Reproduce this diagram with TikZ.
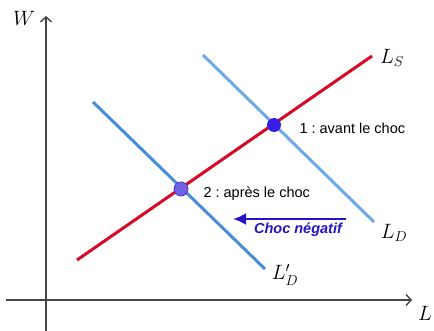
\documentclass[tikz,border=0pt]{standalone}
\usepackage{fontspec}
\setsansfont{Liberation Sans}
\usepackage{amsmath}
\usetikzlibrary{arrows.meta}
\definecolor{offrered}{RGB}{214,10,38}
\definecolor{demandeblue}{RGB}{110,170,228}
\definecolor{demandedark}{RGB}{72,140,218}
\definecolor{chocblue}{RGB}{35,20,200}
\definecolor{axisgray}{RGB}{70,70,70}
\frenchspacing

\begin{document}
\begin{tikzpicture}[x=1pt,y=-1pt,
    axis/.style={draw=axisgray,line width=1.4pt,-{Straight Barb[length=5pt,width=11pt]}},
    curve/.style={line width=3pt},
    eqpoint/.style={circle,inner sep=0pt,minimum size=14pt},
    mathlabel/.style={font=\fontsize{20.5}{23}\selectfont},
    txtlabel/.style={font=\sffamily\fontsize{14.5}{17}\selectfont,anchor=west}]
    \useasboundingbox (0,0) rectangle (434,331);
    % axes
    \coordinate (O1) at (46,331);
    \coordinate (Wtop) at (46,16);
    \coordinate (O2) at (6,300);
    \coordinate (Lend) at (412,300);
    \draw[axis] (O1)--(Wtop);
    \draw[axis] (O2)--(Lend);
    \node[mathlabel] (W) at (24,18) {$W$};
    \node[mathlabel] (L) at (425,313) {$L$};
    % offre
    \coordinate (S1) at (77,260);
    \coordinate (S2) at (372,56);
    \draw[curve,offrered] (S1)--(S2);
    \node[mathlabel] (LS) at (392,58) {$L_S$};
    % demande avant
    \coordinate (D1) at (203,55);
    \coordinate (D2) at (374,222);
    \draw[curve,demandeblue] (D1)--(D2);
    \node[mathlabel] (LD) at (394,233) {$L_D$};
    % demande apres
    \coordinate (Dp1) at (93,102);
    \coordinate (Dp2) at (265,269);
    \draw[curve,demandedark] (Dp1)--(Dp2);
    \node[mathlabel] (LDp) at (285,275) {$L'_D$};
    % equilibres
    \node[eqpoint,fill={rgb,255:red,55;green,30;blue,230}] (E1) at (274,125) {};
    \node[eqpoint,fill={rgb,255:red,112;green,98;blue,226},draw={rgb,255:red,70;green,55;blue,200},line width=0.8pt] (E2) at (181,189) {};
    \node[txtlabel] (T1) at (296,128) {1 : avant le choc};
    \node[txtlabel] (T2) at (200,194) {2 : après le choc};
    % choc
    \coordinate (C1) at (346,219);
    \coordinate (C2) at (233,219);
    \draw[chocblue,line width=2.4pt,-{Latex[length=13pt,width=12pt]}] (C1)--(C2);
    \node[font=\sffamily\bfseries\itshape\fontsize{14.5}{17}\selectfont,text=chocblue] (CN) at (298,230) {Choc négatif};
\end{tikzpicture}
\end{document}
